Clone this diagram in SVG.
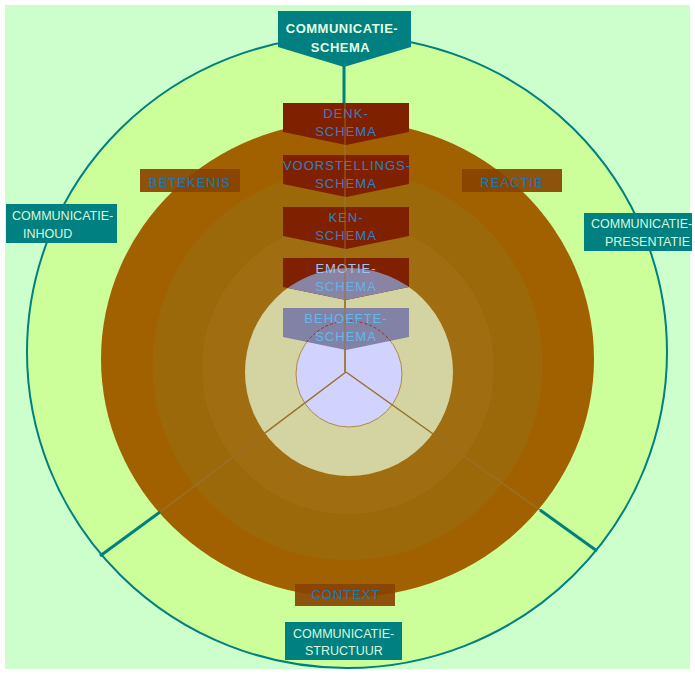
<svg xmlns="http://www.w3.org/2000/svg" width="695" height="674" viewBox="0 0 695 674">
  <style>
    .tealbox { fill: #008080; }
    .tealtxt { font-family: "Liberation Sans", Arial, sans-serif; font-size: 12.5px; fill: #DDF8D8; }
    .tealbold { font-family: "Liberation Sans", Arial, sans-serif; font-size: 13px; font-weight: bold; fill: #E4FFE4; letter-spacing: 0.5px; text-anchor: middle; }
    .schema { fill: #7F2000; }
    .schtxt { font-family: "Liberation Sans", Arial, sans-serif; font-size: 13px; fill: #2E80C8; letter-spacing: 1px; text-anchor: middle; }
    .side { fill: #884400; fill-opacity: 0.92; }
    .sidetxt { font-family: "Liberation Sans", Arial, sans-serif; font-size: 13px; fill: #1878B8; letter-spacing: 1px; text-anchor: middle; }
    .spoke { stroke: #9A7028; stroke-width: 1.5; fill: none; }
    .tealline { stroke: #008080; stroke-width: 3; fill: none; }
  </style>
  <defs>
    <clipPath id="beigeClip">
      <circle cx="349" cy="372" r="104"/>
    </clipPath>
    <clipPath id="behoefteClip">
      <polygon points="283,308 409,308 409,337 346,350 283,337"/>
    </clipPath>
  </defs>

  <!-- canvas -->
  <rect x="0" y="0" width="695" height="674" fill="#FFFFFF"/>
  <rect x="5" y="5" width="685" height="664" fill="#CCFFCC"/>

  <!-- rings -->
  <g id="rings">
    <ellipse cx="347" cy="352" rx="320" ry="316" fill="#CCFF99" stroke="#008080" stroke-width="2"/>
    <ellipse cx="347.5" cy="359" rx="246.5" ry="238" fill="#A26100"/>
    <circle cx="347.5" cy="365" r="195" fill="#9C690A"/>
    <circle cx="348" cy="368" r="146" fill="#A06E10"/>
    <circle cx="349" cy="372" r="104" fill="#D4D3A2"/>
    <circle cx="349" cy="374" r="53" fill="#D2D2FE" stroke="#B08A40" stroke-width="1"/>
  </g>

  <!-- connectors -->
  <g id="connectors">
    <line class="spoke" x1="345" y1="372" x2="345" y2="103"/>
    <line class="spoke" x1="346" y1="372" x2="160" y2="512"/>
    <line class="spoke" x1="346" y1="372" x2="540" y2="510"/>
    <line class="tealline" x1="160" y1="512" x2="100" y2="556"/>
    <line class="tealline" x1="540" y1="510" x2="597" y2="551"/>
    <line class="tealline" x1="344" y1="66" x2="344" y2="104"/>
  </g>

  <!-- outer labels -->
  <g id="communicatie-schema">
    <polygon class="tealbox" points="278,11 411,11 411,47 344,67 278,47"/>
    <text class="tealbold" x="342" y="33">COMMUNICATIE-</text>
    <text class="tealbold" x="340.5" y="52">SCHEMA</text>
  </g>
  <g id="communicatie-inhoud">
    <rect class="tealbox" x="6" y="204" width="111" height="39"/>
    <text class="tealtxt" x="12" y="220">COMMUNICATIE-</text>
    <text class="tealtxt" x="23" y="238">INHOUD</text>
  </g>
  <g id="communicatie-presentatie">
    <rect class="tealbox" x="584" y="213" width="108" height="38"/>
    <text class="tealtxt" x="591" y="228">COMMUNICATIE-</text>
    <text class="tealtxt" x="605" y="246">PRESENTATIE</text>
  </g>
  <g id="communicatie-structuur">
    <rect class="tealbox" x="285" y="622" width="117" height="38"/>
    <text class="tealtxt" x="293" y="638">COMMUNICATIE-</text>
    <text class="tealtxt" x="305" y="655">STRUCTUUR</text>
  </g>

  <!-- side labels -->
  <g id="betekenis">
    <rect class="side" x="140" y="169" width="100" height="23"/>
    <text class="sidetxt" x="190" y="187">BETEKENIS</text>
  </g>
  <g id="reactie">
    <rect class="side" x="462" y="169" width="100" height="23"/>
    <text class="sidetxt" x="512" y="187">REACTIE</text>
  </g>
  <g id="context">
    <rect class="side" x="295" y="584" width="100" height="22"/>
    <text class="sidetxt" x="346" y="599">CONTEXT</text>
  </g>

  <!-- schema stack -->
  <g id="denk-schema">
    <polygon class="schema" points="283,103 409,103 409,132 346,145 283,132"/>
    <text class="schtxt" x="346" y="117.5">DENK-</text>
    <text class="schtxt" x="346" y="135.5">SCHEMA</text>
  </g>
  <g id="voorstellings-schema">
    <polygon class="schema" points="283,155 409,155 409,184 346,197 283,184"/>
    <text class="schtxt" x="347" y="169.5">VOORSTELLINGS-</text>
    <text class="schtxt" x="346" y="187.5">SCHEMA</text>
  </g>
  <g id="ken-schema">
    <polygon class="schema" points="283,207 409,207 409,236 346,249 283,236"/>
    <text class="schtxt" x="346" y="221.5">KEN-</text>
    <text class="schtxt" x="346" y="239.5">SCHEMA</text>
  </g>
  <g id="emotie-schema">
    <polygon class="schema" points="283,258 409,258 409,287 346,300 283,287"/>
    <polygon points="283,258 409,258 409,287 346,300 283,287" fill="#8A84A4" clip-path="url(#beigeClip)"/>
    <text class="schtxt" x="346" y="272.5" fill="#A8C0F0" style="fill:#A8C0F0">EMOTIE-</text>
    <text class="schtxt" x="346" y="290.5" style="fill:#62B2E8">SCHEMA</text>
  </g>
  <g id="behoefte-schema">
    <polygon points="283,308 409,308 409,337 346,350 283,337" fill="#8282A6"/>
    <circle cx="349" cy="374" r="53" fill="none" stroke="#A03018" stroke-width="1" stroke-dasharray="3 2" clip-path="url(#behoefteClip)"/>
    <text class="schtxt" x="346" y="322.5" style="fill:#62B8EA">BEHOEFTE-</text>
    <text class="schtxt" x="346" y="340.5" style="fill:#62B8EA">SCHEMA</text>
  </g>
  <line class="spoke" x1="345" y1="103" x2="345" y2="372" stroke-opacity="0.6"/>
</svg>
